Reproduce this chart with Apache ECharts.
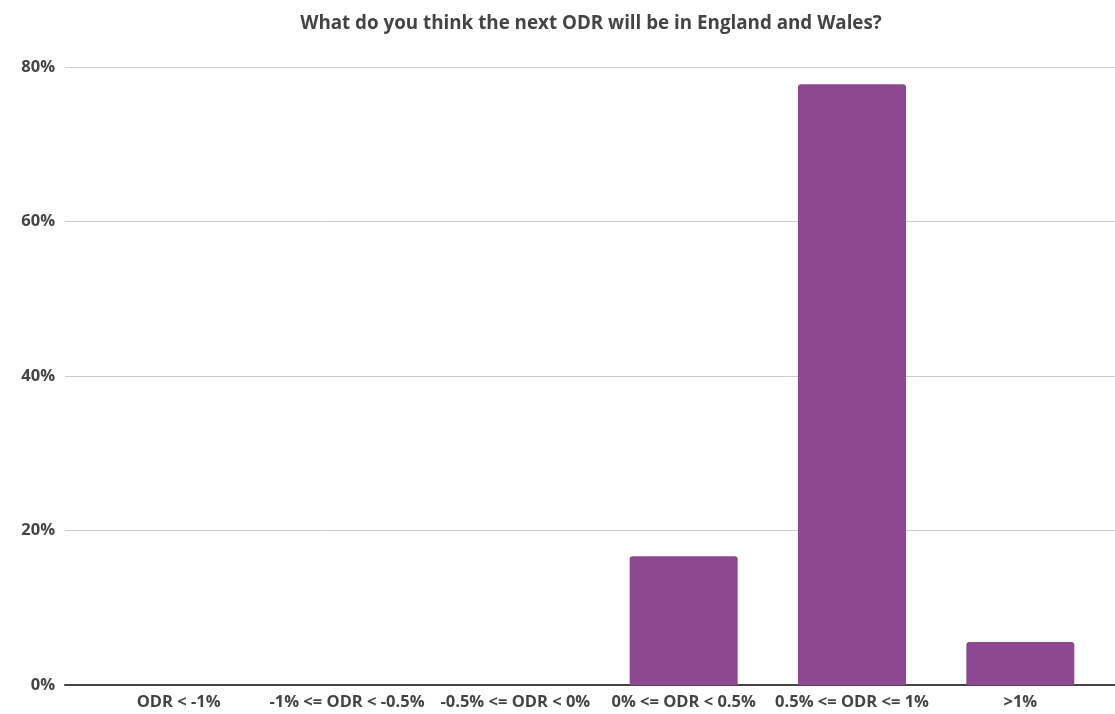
<!DOCTYPE html>
<html>
<head>
<meta charset="utf-8">
<script src="https://cdn.jsdelivr.net/npm/echarts@6/dist/echarts.min.js"></script>
<style>
  html, body { margin: 0; padding: 0; background: #fff; }
  #chart { width: 1115px; height: 714px; }
</style>
</head>
<body>
<div id="chart"></div>
<script>
// Survey answer buckets and share of respondents
const categories = ['ODR < -1%', '-1% <= ODR < -0.5%', '-0.5% <= ODR < 0%', '0% <= ODR < 0.5%', '0.5% <= ODR <= 1%', '>1%'];
const shares = [0, 0, 0, 0.1667, 0.7778, 0.0556];
const yTicks = [0, 0.2, 0.4, 0.6, 0.8];

const FONT = '"Open Sans", "Segoe UI", sans-serif';
const chart = echarts.init(document.getElementById('chart'));

chart.setOption({
  animation: false,
  title: {
    text: 'What do you think the next ODR will be in England and Wales?',
    left: 586, top: 9, textAlign: 'center',
    textStyle: { fontFamily: FONT, fontWeight: 'bold', fontSize: 18.8, color: '#444' }
  },
  grid: [
    // frame with gridlines and the y scale
    { left: 65, right: 0, top: 67, bottom: 29 },
    // bars
    { left: 94.5, width: 1010, top: 67, bottom: 29 }
  ],
  xAxis: [
    { gridIndex: 0, type: 'category', data: categories, show: true,
      axisLine: { show: true, lineStyle: { color: '#444', width: 2 } },
      axisTick: { show: false }, axisLabel: { show: false } },
    { gridIndex: 1, type: 'category', data: categories,
      axisLine: { show: false }, axisTick: { show: false },
      axisLabel: { fontFamily: FONT, fontWeight: 'bold', fontSize: 16.5, color: '#444', margin: 9, interval: 0 } }
  ],
  yAxis: [
    { gridIndex: 0, type: 'value', min: yTicks[0], max: yTicks[yTicks.length - 1], interval: 0.2,
      axisLine: { show: false }, axisTick: { show: false },
      splitLine: { lineStyle: { color: '#ccc', width: 1 } },
      axisLabel: { fontFamily: FONT, fontWeight: 'bold', fontSize: 16.5, color: '#444', margin: 10,
        formatter: v => Math.round(v * 100) + '%' } },
    { gridIndex: 1, type: 'value', min: 0, max: 0.8, show: false }
  ],
  series: [{
    type: 'bar',
    xAxisIndex: 1, yAxisIndex: 1,
    data: shares,
    barWidth: 108,
    itemStyle: { color: '#8e4891', borderRadius: [3, 3, 0, 0] }
  }]
});
</script>
</body>
</html>
